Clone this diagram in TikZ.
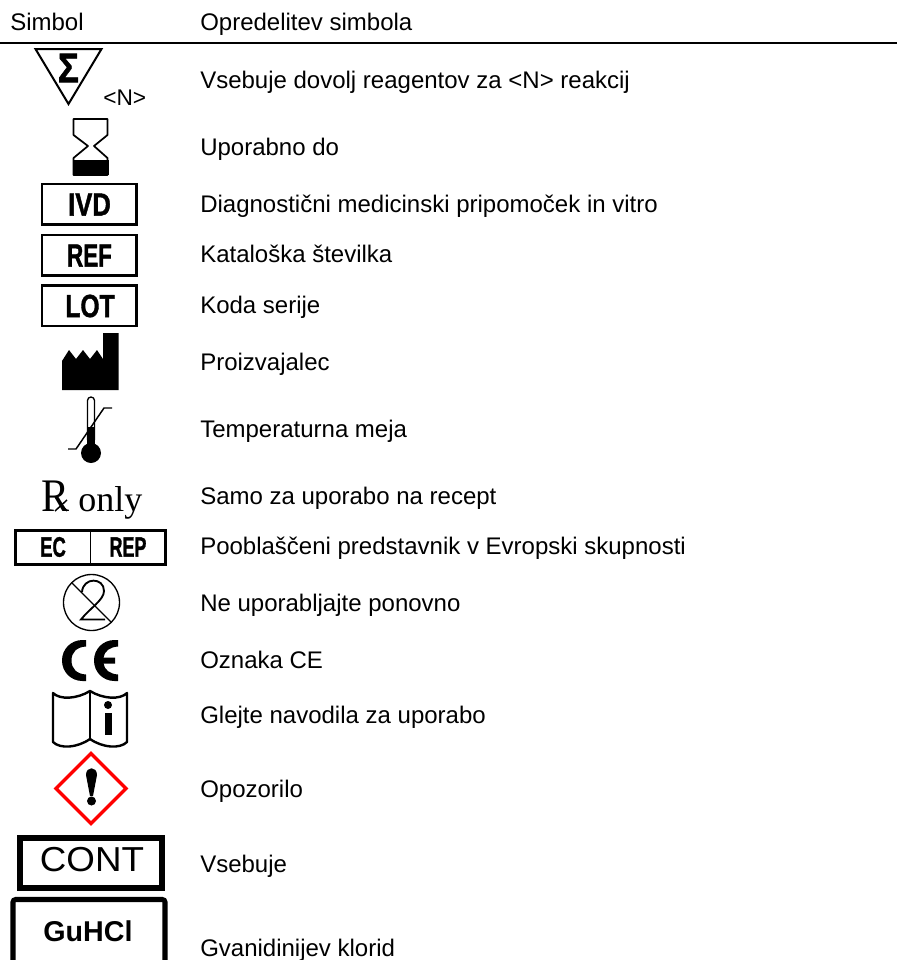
\documentclass[tikz,border=0pt]{standalone}
\usepackage{fontspec}
\setmainfont{Liberation Sans}
\newfontfamily\serifrx{Liberation Serif}
\newfontfamily\heavy[BoldFeatures={FakeBold=1.5}]{Liberation Sans}
\tikzset{
  lab/.style={anchor=base west,inner sep=0pt,font=\fontsize{18pt}{20pt}\selectfont},
  boxed/.style={draw=black,line width=1.9pt,fill=white},
  ttl/.style={inner sep=0pt,font=\heavy\bfseries\fontsize{24pt}{26pt}\selectfont},
  ttlsmall/.style={inner sep=0pt,font=\heavy\bfseries\fontsize{21pt}{23pt}\selectfont},
}
\begin{document}
\begin{tikzpicture}[x=0.75pt,y=-0.75pt]
\useasboundingbox (0,0) rectangle (897,960);
\fill[white] (0,0) rectangle (897,960);
% header
\node[lab] (h1) at (10,30) {Simbol};
\node[lab] (h2) at (200,30) {Opredelitev simbola};
\draw[line width=1.3pt] (0,43) -- (897,43);
% labels
\node[lab] (t1) at (200,88.5) {Vsebuje dovolj reagentov za <N> reakcij};
\node[lab] (t2) at (200,155) {Uporabno do};
\node[lab] (t3) at (200,212) {Diagnostični medicinski pripomoček in vitro};
\node[lab] (t4) at (200,262) {Kataloška številka};
\node[lab] (t5) at (200,313) {Koda serije};
\node[lab] (t6) at (200,370) {Proizvajalec};
\node[lab] (t7) at (200,437) {Temperaturna meja};
\node[lab] (t8) at (200,504) {Samo za uporabo na recept};
\node[lab] (t9) at (200,554) {Pooblaščeni predstavnik v Evropski skupnosti};
\node[lab] (t10) at (200,611) {Ne uporabljajte ponovno};
\node[lab] (t11) at (200,668) {Oznaka CE};
\node[lab] (t12) at (200,723.5) {Glejte navodila za uporabo};
\node[lab] (t13) at (200,797) {Opozorilo};
\node[lab] (t14) at (200,872) {Vsebuje};
\node[lab] (t15) at (200,956) {Gvanidinijev klorid};
% sigma triangle
\draw[line width=1.5pt,line join=miter] (35.5,49) -- (101.5,49) -- (68.5,104) -- cycle;
\node[inner sep=0pt,font=\heavy\bfseries\fontsize{31pt}{33pt}\selectfont] (sig) at (68.5,68) {\scalebox{.85}[1]{Σ}};
\node[lab,font=\fontsize{17pt}{19pt}\selectfont] (n) at (103,105) {<N>};
% hourglass
\draw[line width=1.3pt,line join=round] (73.5,119) -- (107.5,119) -- (107.5,135) -- (94,146) -- (107.5,158) -- (107.5,175) -- (73.5,175) -- (73.5,158) -- (88,146) -- (73.5,135) -- cycle;
\fill (72.5,160) -- (108.5,160) -- (108.5,175) -- (72.5,175) -- cycle;
% IVD REF LOT
\draw[boxed] (42,184) rectangle (136.5,224.5);
\node[ttl] (ivd) at (89.5,204.5) {\scalebox{.8}[1]{IVD}};
\draw[boxed] (42,235) rectangle (136.5,275.5);
\node[ttl] (ref) at (89.5,255.5) {\scalebox{.7}[1]{REF}};
\draw[boxed] (42,285.5) rectangle (136.5,326);
\node[ttl] (lot) at (90,306) {\scalebox{.77}[1]{LOT}};
% factory
\fill (62,361) -- (69,350) -- (76,359) -- (83,350) -- (90,359) -- (97,350) -- (103,359) -- (103,333) -- (118.5,333) -- (118.5,390) -- (62,390) -- cycle;
% thermometer
\draw[line width=1pt] (87.5,440) -- (87.5,400.5) arc (180:360:3.5) -- (94.5,440);
\fill (87,427) rectangle (95,445);
\fill (91,453) circle (10);
\draw[line width=1.1pt] (68,449) -- (76,449) -- (104,408) -- (112,408);
% Rx only
\node[inner sep=0pt,anchor=base west,font=\serifrx\fontsize{35pt}{37pt}\selectfont] (rx) at (41,511) {\scalebox{.9}[1]{R}};
\draw[line width=1.1pt] (56,498) -- (67,511) (67,500) -- (55,511);
\node[inner sep=0pt,anchor=base west,font=\serifrx\fontsize{27pt}{29pt}\selectfont] (only) at (78,511) {only};
% EC REP
\draw[boxed] (15.5,530.5) rectangle (165.5,564.5);
\draw[line width=0.9pt] (90.5,530.5) -- (90.5,564.5);
\node[ttlsmall] (ec) at (53,547) {\scalebox{.66}[1]{EC}};
\node[ttlsmall] (rep) at (128,547) {\scalebox{.64}[1]{REP}};
% do not reuse
\draw[line width=1pt] (91.5,602.5) circle (28);
\draw[line width=1pt] (72,583) -- (111,622);
\draw[line width=1.4pt,line join=miter] (105,619.5) -- (81,619.5) .. controls (90,608) and (104,600) .. (104,591) .. controls (104,577) and (83,577) .. (82,592);
% CE
\fill (86,640) -- (82.5,640) .. controls (71,640) and (62,649) .. (62,660.5) .. controls (62,672) and (71,681) .. (82.5,681) -- (86,681) -- (86,674.5) .. controls (77,674) and (71.5,669) .. (71.5,660.5) .. controls (71.5,652) and (77,647) .. (86,646.5) -- cycle;
\fill (118,640) -- (114.5,640) .. controls (103,640) and (94,649) .. (94,660.5) .. controls (94,672) and (103,681) .. (114.5,681) -- (118,681) -- (118,674.5) .. controls (110,674) and (104.5,670) .. (103.5,663.5) -- (115,663.5) -- (115,657.5) -- (103.5,657.5) .. controls (104.5,651) and (110,647) .. (118,646.5) -- cycle;
% book
\draw[line width=1.8pt,line join=round] (53,693) .. controls (60,700) and (77,699) .. (90,691) .. controls (103,699) and (120,700) .. (127,693) -- (127,742) .. controls (120,749) and (103,748) .. (90,739) .. controls (77,748) and (60,749) .. (53,742) -- cycle;
\draw[line width=1.8pt] (90,691) -- (90,739);
\fill (108,705) circle (4);
\fill (105,713) rectangle (112,735);
% warning
\draw[red,line width=2.6pt,line join=miter] (91,753.5) -- (126,788.5) -- (91,823.5) -- (56,788.5) -- cycle;
\fill (86,775) .. controls (86,766) and (97,766) .. (97,775) -- (93,796) -- (90,796) -- cycle;
\fill (91.5,801) circle (4.5);
% CONT
\draw[line width=4.5pt] (20,838) rectangle (162,888);
\node[inner sep=0pt,font=\fontsize{26pt}{28pt}\selectfont] (cont) at (92,859.5) {\scalebox{1.06}[1]{CONT}};
% GuHCl
\draw[line width=3.8pt,rounded corners=2pt] (13,899.5) rectangle (165,975);
\node[inner sep=0pt,font=\bfseries\fontsize{21.5pt}{23pt}\selectfont] (gu) at (88,931) {GuHCl};
\end{tikzpicture}
\end{document}
